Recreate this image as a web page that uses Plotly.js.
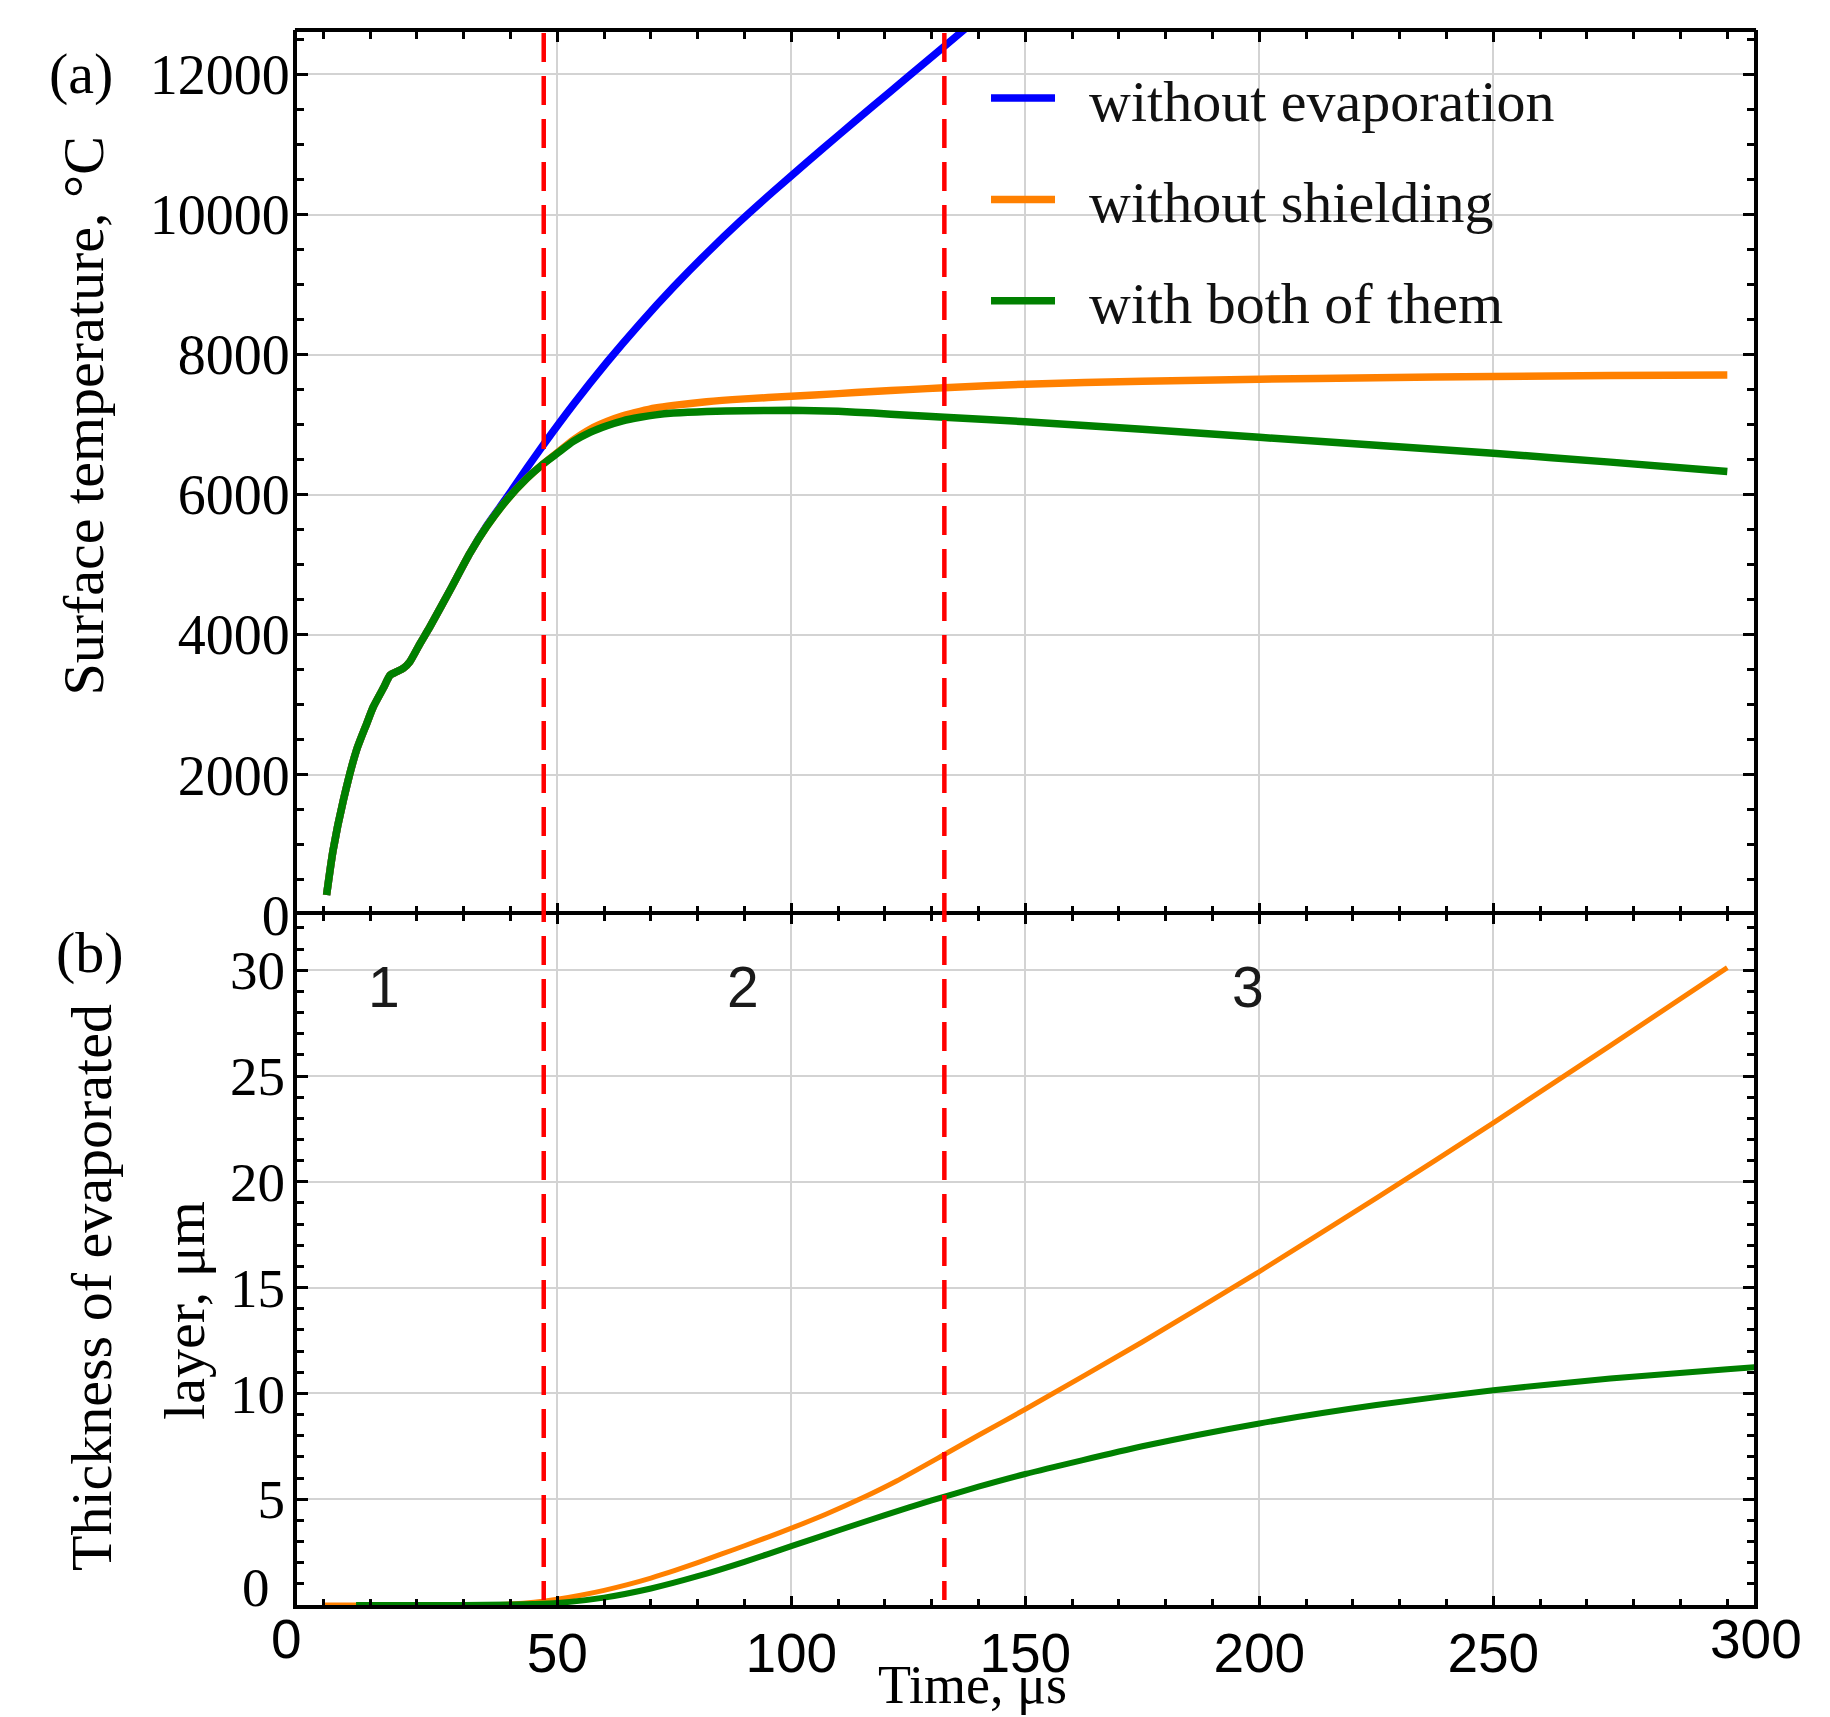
<!DOCTYPE html>
<html>
<head>
<meta charset="utf-8">
<script src="https://cdn.plot.ly/plotly-3.0.1.min.js"></script>
<style>html,body{margin:0;padding:0;background:#fff;}</style>
</head>
<body>
<div id="chart" style="width:1830px;height:1717px;"></div>
<script>
// ---------- Panel (a): surface temperature (°C) vs time (μs) ----------
const seriesNames = ['without evaporation', 'without shielding', 'with both of them'];

const timeNoEvap = [0.7, 2.1, 4.3, 7.1, 9.3, 10.7, 12.8, 14.3, 15.7, 17.1, 18.5, 20.7, 22.8, 27.1, 31.3,
  34.9, 39.2, 43.5, 47, 53.4, 60.6, 67.7, 74.8, 81.9, 89, 96.2, 103.3, 110.4, 117.5, 124.7, 131.8, 137.5];
const tempNoEvap = [285, 928, 1642, 2355, 2737, 2974, 3236, 3426, 3473, 3521, 3616, 3878, 4116, 4640, 5163,
  5555, 5960, 6380, 6710, 7286, 7891, 8445, 8963, 9446, 9900, 10332, 10744, 11149, 11550, 11953, 12351, 12670];

const timeNoShield = [0.7, 2.1, 4.3, 7.1, 9.3, 10.7, 12.8, 14.3, 15.7, 17.1, 18.5, 20.7, 22.8, 27.1, 31.3,
  34.9, 39.2, 43.5, 47, 50, 53.4, 57, 60.6, 64, 67.7, 71, 74.8, 81.9, 90, 100, 110, 117.5, 125, 132.7,
  150, 175, 200, 225, 250, 275, 300];
const tempNoShield = [285, 928, 1642, 2355, 2737, 2974, 3236, 3426, 3473, 3521, 3616, 3878, 4116, 4640, 5163,
  5543, 5924, 6233, 6440, 6600, 6780, 6935, 7045, 7125, 7190, 7238, 7275, 7328, 7368, 7405, 7443, 7472, 7500, 7527,
  7578, 7620, 7648, 7670, 7688, 7700, 7710];

const timeBoth = [0.7, 2.1, 4.3, 7.1, 9.3, 10.7, 12.8, 14.3, 15.7, 17.1, 18.5, 20.7, 22.8, 27.1, 31.3,
  34.9, 39.2, 43.5, 47, 50, 53.4, 57, 60.6, 64, 67.7, 71, 74.8, 81.9, 90, 100, 110, 117.5, 125, 132.7,
  150, 175, 200, 225, 250, 275, 300];
const tempBoth = [285, 928, 1642, 2355, 2737, 2974, 3236, 3426, 3473, 3521, 3616, 3878, 4116, 4640, 5163,
  5543, 5924, 6233, 6440, 6590, 6760, 6890, 6985, 7055, 7105, 7140, 7165, 7188, 7200, 7205, 7190, 7165, 7135, 7105,
  7043, 6935, 6819, 6705, 6591, 6465, 6330];

// ---------- Panel (b): thickness of evaporated layer (μm) vs time (μs) ----------
const timeThickNoShield = [0.2, 25, 35, 40, 45, 50, 55, 60, 65, 70, 75, 80, 85, 90, 95, 100, 107.5, 115, 122.5,
  132.6, 140, 150, 175, 200, 225, 250, 275, 300];
const thickNoShield = [0, 0, 0.015, 0.05, 0.13, 0.27, 0.46, 0.69, 0.96, 1.27, 1.62, 2.0, 2.4, 2.8, 3.21, 3.63, 4.3, 5.04, 5.86,
  7.1, 8.02, 9.25, 12.43, 15.76, 19.23, 22.79, 26.44, 30.12];

const timeThickBoth = [7, 30, 40, 45, 50, 60, 70, 80, 90, 100, 110, 120, 130, 140, 150, 175, 200, 225, 250, 275, 300, 308];
const thickBoth = [0, 0, 0.02, 0.05, 0.1, 0.35, 0.78, 1.36, 2.04, 2.78, 3.52, 4.25, 4.94, 5.59, 6.19, 7.5, 8.58, 9.45,
  10.15, 10.7, 11.14, 11.27];

// Stage boundaries (μs) and stage labels
const stageBoundaries = [47.1, 132.7];
const stageLabels = ['1', '2', '3'];

// Tick labels
const timeTicks = [50, 100, 150, 200, 250];
const timeEdgeLabels = ['0', '300'];
const tempTicks = [0, 2000, 4000, 6000, 8000, 10000, 12000];
const thickTicks = [5, 10, 15, 20, 25, 30];
const thickZeroLabel = '0';

// ---------- styling ----------
const serif = 'Liberation Serif, Times New Roman, serif';
const sans = 'Liberation Sans, Arial, sans-serif';
const colors = ['#0000ff', '#ff8000', '#008000'];
const legendGap = '\u2002';

const traces = [
  {x: timeNoEvap, y: tempNoEvap, name: legendGap + seriesNames[0], legendgroup: 'g0', xaxis: 'x', yaxis: 'y',
   type: 'scatter', mode: 'lines', line: {color: colors[0], width: 7.5, shape: 'spline', smoothing: 0.6}},
  {x: timeNoShield, y: tempNoShield, name: legendGap + seriesNames[1], legendgroup: 'g1', xaxis: 'x', yaxis: 'y',
   type: 'scatter', mode: 'lines', line: {color: colors[1], width: 7.5, shape: 'spline', smoothing: 0.6}},
  {x: timeBoth, y: tempBoth, name: legendGap + seriesNames[2], legendgroup: 'g2', xaxis: 'x', yaxis: 'y',
   type: 'scatter', mode: 'lines', line: {color: colors[2], width: 7.5, shape: 'spline', smoothing: 0.6}},
  {x: timeThickNoShield, y: thickNoShield, name: seriesNames[1], legendgroup: 'g1', showlegend: false,
   xaxis: 'x2', yaxis: 'y2', type: 'scatter', mode: 'lines', line: {color: colors[1], width: 5, shape: 'spline', smoothing: 0.6}},
  {x: timeThickBoth, y: thickBoth, name: seriesNames[2], legendgroup: 'g2', showlegend: false,
   xaxis: 'x2', yaxis: 'y2', type: 'scatter', mode: 'lines', line: {color: colors[2], width: 6, shape: 'spline', smoothing: 0.6}}
];

const axisCommon = {
  showline: true, linecolor: 'black', linewidth: 4, mirror: 'allticks',
  ticks: 'inside', tickcolor: 'black', tickwidth: 3,
  showgrid: true, gridcolor: '#d3d3d3', gridwidth: 2, zeroline: false
};
const minorCommon = {ticks: 'inside', tickcolor: 'black', tickwidth: 3, showgrid: false};

const split = 0.4381;

function note(text, x, y, font, extra) {
  return Object.assign({text: text, xref: 'paper', yref: 'paper', x: x, y: y, showarrow: false,
    xanchor: 'center', yanchor: 'middle', font: font}, extra || {});
}
const serifFont = {family: serif, size: 58, color: 'black'};

const annotations = [
  note('(a)', -0.1483, 0.9721, serifFont),
  note('(b)', -0.1421, 0.4140, serifFont),
  note('Surface temperature, °C', -0.1462, 0.7552, serifFont, {textangle: -90}),
  note('Thickness of evaporated', -0.1414, 0.2019, serifFont, {textangle: -90}),
  note('layer, μm', -0.0776, 0.1873, serifFont, {textangle: -90}),
  note('Time, μs', 0.4633, -0.0711, {family: serif, size: 54, color: 'black'}, {yanchor: 'bottom'}),
  note(timeEdgeLabels[0], -0.0072, -0.0216, {family: sans, size: 55, color: 'black'}),
  note(timeEdgeLabels[1], 1.0014, -0.0216, {family: sans, size: 55, color: 'black'}),
  note(thickZeroLabel, -0.0281, 0.0114, {family: serif, size: 55, color: 'black'}),
  note(stageLabels[0], 12.9, 29.2, {family: sans, size: 57, color: '#1a1a1a'}, {xref: 'x2', yref: 'y2'}),
  note(stageLabels[1], 89.7, 29.2, {family: sans, size: 57, color: '#1a1a1a'}, {xref: 'x2', yref: 'y2'}),
  note(stageLabels[2], 197.5, 29.2, {family: sans, size: 57, color: '#1a1a1a'}, {xref: 'x2', yref: 'y2'})
];

const shapes = stageBoundaries.map(t => ({
  type: 'line', xref: 'x', yref: 'paper', x0: t, x1: t, y0: 0.9981, y1: 0.0032, layer: 'above',
  line: {color: '#ff0000', width: 4.5, dash: '29px,14px'}
}));
// top frame of panel (a)
shapes.push({type: 'line', xref: 'paper', yref: 'paper', x0: -0.0014, x1: 1.0014, y0: 1, y1: 1,
  layer: 'above', line: {color: 'black', width: 4}});

const layout = {
  width: 1830, height: 1717,
  margin: {l: 297, r: 76, t: 30, b: 112, pad: 0},
  paper_bgcolor: '#ffffff', plot_bgcolor: '#ffffff',
  showlegend: true,
  legend: {x: 0.4729, y: 0.9849, xanchor: 'left', yanchor: 'top', bgcolor: 'rgba(0,0,0,0)',
    borderwidth: 0, font: {family: serif, size: 58, color: '#111'}, itemwidth: 64, tracegroupgap: 23,
    traceorder: 'grouped'},
  xaxis: Object.assign({}, axisCommon, {
    anchor: 'y', range: [-5.62, 305.7], showline: false, tickmode: 'array', tickvals: timeTicks,
    showticklabels: false, ticklen: 12,
    minor: Object.assign({}, minorCommon, {tickmode: 'linear', tick0: 0, dtick: 10, ticklen: 9})
  }),
  yaxis: Object.assign({}, axisCommon, {
    anchor: 'x', domain: [split, 1], range: [0, 12634], tickmode: 'array', tickvals: tempTicks,
    ticktext: tempTicks.map(String), ticklen: 11, ticklabelstandoff: -8,
    tickfont: {family: serif, size: 56, color: 'black'},
    minor: Object.assign({}, minorCommon, {tickmode: 'linear', tick0: 0, dtick: 500, ticklen: 7})
  }),
  xaxis2: Object.assign({}, axisCommon, {
    anchor: 'y2', range: [-5.62, 305.7], tickmode: 'array', tickvals: timeTicks,
    ticktext: timeTicks.map(String), ticklen: 9, ticklabelstandoff: -3,
    tickfont: {family: sans, size: 55, color: 'black'},
    minor: Object.assign({}, minorCommon, {tickmode: 'linear', tick0: 0, dtick: 10, ticklen: 6})
  }),
  yaxis2: Object.assign({}, axisCommon, {
    anchor: 'x2', domain: [0, split], range: [0, 32.61], tickmode: 'array', tickvals: thickTicks,
    ticktext: thickTicks.map(String), ticklen: 11, ticklabelstandoff: -3,
    tickfont: {family: serif, size: 55, color: 'black'},
    minor: Object.assign({}, minorCommon, {tickmode: 'linear', tick0: 0, dtick: 1, ticklen: 7})
  }),
  annotations: annotations,
  shapes: shapes
};

Plotly.newPlot('chart', traces, layout, {staticPlot: true, displayModeBar: false});
</script>
</body>
</html>
